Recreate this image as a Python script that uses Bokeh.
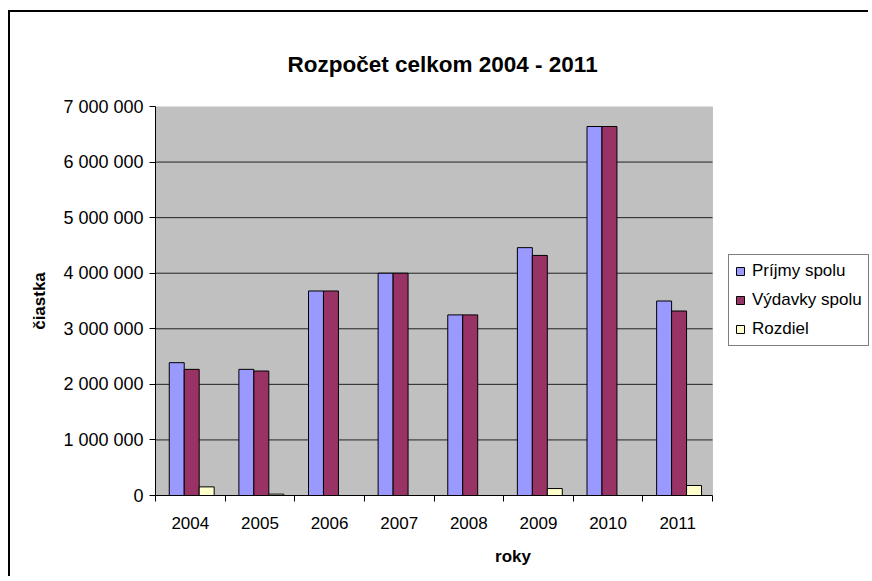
from bokeh.plotting import figure
from bokeh.models import (Range1d, FixedTicker, SingleIntervalTicker, BoxAnnotation,
                          CustomJSTickFormatter, Legend, LegendItem, ColumnDataSource)
from bokeh.transform import dodge
from bokeh.embed import file_html
from bokeh.resources import INLINE

# ---- data ----
years = ["2004", "2005", "2006", "2007", "2008", "2009", "2010", "2011"]
prijmy = [2390000, 2270000, 3680000, 4000000, 3250000, 4460000, 6640000, 3500000]
vydavky = [2270000, 2240000, 3680000, 4000000, 3250000, 4320000, 6640000, 3320000]
rozdiel = [155000, 25000, 0, 0, 0, 125000, 0, 180000]
series_names = ["Príjmy spolu", "Výdavky spolu", "Rozdiel"]
title_text = "Rozpočet celkom 2004 - 2011"
y_max = 7000000
y_step = 1000000

FONT = "Liberation Sans"

n = len(years)
centers = [i + 0.5 for i in range(n)]
src = ColumnDataSource(data=dict(xc=centers, year=years, prijmy=prijmy, vydavky=vydavky, rozdiel=rozdiel))

W, H = 860, 566
ML, MR, MT, MB = 145, 0, 94, 83
frame_w = W - ML - MR
data_w = 557                      # pixel width of the grey plot area
x_end = n * frame_w / data_w      # frame extends right to hold the legend

p = figure(width=W, height=H,
           x_range=Range1d(0, x_end),
           y_range=Range1d(0, y_max),
           output_backend="svg", toolbar_location=None,
           min_border_left=ML, min_border_right=MR, min_border_top=MT, min_border_bottom=MB,
           background_fill_color="white", border_fill_color="white",
           outline_line_color=None)

p.styles = {"border-left": "2px solid black", "border-top": "2px solid black",
            "margin-left": "8px", "margin-top": "10px"}

# title
p.title.text = title_text
p.title.align = "left"
p.title.offset = 132
p.title.text_font = FONT
p.title.text_font_size = "22.5px"
p.title.text_font_style = "bold"
p.title.text_color = "black"
p.title.standoff = 60

# grey plot area
p.add_layout(BoxAnnotation(left=0, right=n, bottom=0, top=y_max,
                           fill_color="#C0C0C0", fill_alpha=1,
                           line_color="#808080", line_width=1, level="underlay"))

# horizontal gridlines inside the grey area only
gy = list(range(y_step, y_max, y_step))
p.segment(x0=[0] * len(gy), x1=[n] * len(gy), y0=gy, y1=gy, line_color="#222222", line_width=1)

colors = ["#9999FF", "#993366", "#FFFFCC"]
cols = ["prijmy", "vydavky", "rozdiel"]
offsets = [-0.195, 0.02, 0.235]
renderers = []
for c, col, off in zip(colors, cols, offsets):
    r = p.vbar(x=dodge("xc", off), top=col, width=0.215, source=src,
               fill_color=c, line_color="black", line_width=1)
    renderers.append(r)

p.xgrid.grid_line_color = None
p.ygrid.grid_line_color = None

# y axis
yax = p.yaxis[0]
yax.ticker = SingleIntervalTicker(interval=y_step, num_minor_ticks=0)
yax.formatter = CustomJSTickFormatter(
    code="return tick.toFixed(0).replace(/\\B(?=(\\d{3})+(?!\\d))/g, ' ');")
yax.axis_label = "čiastka"
yax.axis_label_text_font = FONT
yax.axis_label_text_font_size = "17px"
yax.axis_label_text_font_style = "bold"
yax.axis_label_text_color = "black"
yax.axis_label_standoff = 11
yax.major_label_text_font = FONT
yax.major_label_text_font_size = "18px"
yax.major_label_text_color = "black"
yax.major_tick_out = 6
yax.major_tick_in = 0
yax.major_tick_line_color = "black"
yax.minor_tick_line_color = None
yax.axis_line_color = "black"
yax.major_label_standoff = 6

# x axis: labels at category centres, tick marks at category boundaries
xax = p.xaxis[0]
xax.bounds = (0, n)
xax.ticker = FixedTicker(ticks=centers, minor_ticks=list(range(n + 1)))
xax.major_label_overrides = {c: y for c, y in zip(centers, years)}
xax.major_tick_line_color = None
xax.minor_tick_line_color = "black"
xax.minor_tick_out = 6
xax.minor_tick_in = 0
xax.axis_line_color = "black"
xax.major_label_text_font = FONT
xax.major_label_text_font_size = "17px"
xax.major_label_text_color = "black"
xax.major_label_standoff = 15
xax.axis_label = "roky"
xax.axis_label_text_font = FONT
xax.axis_label_text_font_size = "17px"
xax.axis_label_text_font_style = "bold"
xax.axis_label_text_color = "black"
xax.axis_label_standoff = 15

legend = Legend(items=[LegendItem(label=nm, renderers=[r]) for nm, r in zip(series_names, renderers)],
                location=(data_w + 16, 149))
legend.border_line_color = "black"
legend.border_line_width = 1
legend.background_fill_color = "white"
legend.background_fill_alpha = 1
legend.label_text_font = FONT
legend.label_text_font_size = "17px"
legend.label_text_color = "black"
legend.glyph_width = 10
legend.glyph_height = 10
legend.label_standoff = 7
legend.label_height = 20
legend.spacing = 9
legend.padding = 6
legend.margin = 0
p.add_layout(legend)

open("out.html", "w").write(file_html(p, INLINE))
